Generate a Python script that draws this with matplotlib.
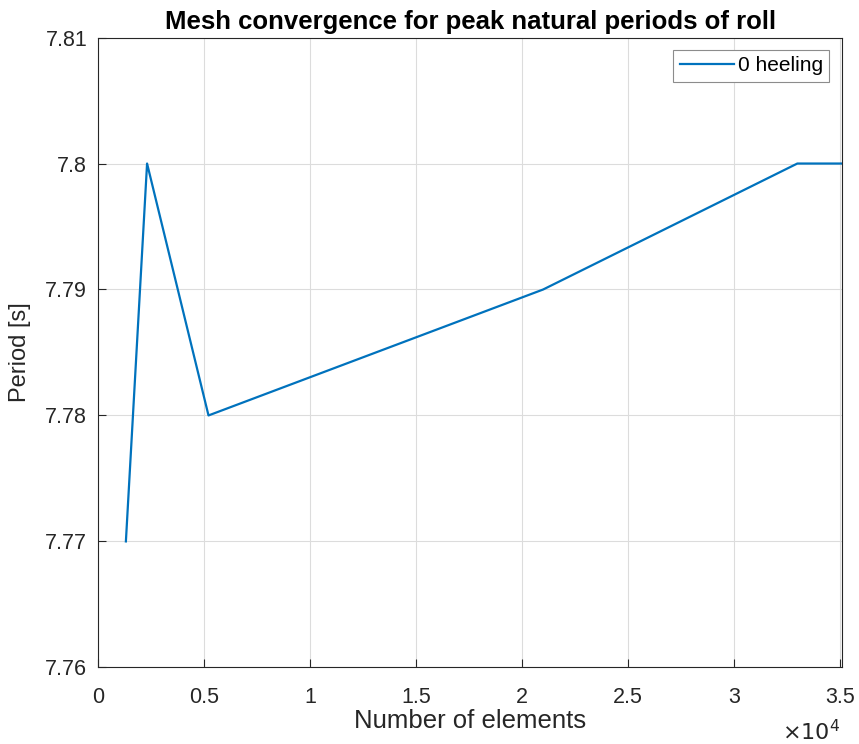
import matplotlib.pyplot as plt

# mesh sizes and the roll period found for each
n_elements = [1300, 2300, 5200, 21000, 33000, 35100]
period = [7.77, 7.80, 7.78, 7.79, 7.80, 7.80]

x_ticks = [0, 5000, 10000, 15000, 20000, 25000, 30000, 35000]
x_ticklabels = ['0', '0.5', '1', '1.5', '2', '2.5', '3', '3.5']
y_ticks = [7.76, 7.77, 7.78, 7.79, 7.80, 7.81]
y_ticklabels = ['7.76', '7.77', '7.78', '7.79', '7.8', '7.81']

plt.rcParams['font.family'] = ['Liberation Sans', 'DejaVu Sans']
axcol = '#262626'

fig = plt.figure(figsize=(8.59, 7.44), dpi=100)
ax = fig.add_axes([0.1145, 0.1030, 0.8655, 0.8465])

ax.plot(n_elements, period, color='#0072BD', lw=1.6, label='0 heeling')

ax.set_xlim(0, 35100)
ax.set_ylim(7.76, 7.81)
ax.set_xticks(x_ticks)
ax.set_xticklabels(x_ticklabels)
ax.set_yticks(y_ticks)
ax.set_yticklabels(y_ticklabels)
ax.tick_params(direction='in', length=6, width=0.8, colors=axcol,
               labelsize=15.5)
ax.tick_params(axis='x', pad=14)
ax.tick_params(axis='y', pad=8)
for s in ax.spines.values():
    s.set_color(axcol)
    s.set_linewidth(0.8)
ax.grid(True, color='#dcdcdc', lw=0.8)
ax.set_axisbelow(True)

ax.set_xlabel('Number of elements', fontsize=18.5, color=axcol, labelpad=1)
ax.set_ylabel('Period [s]', fontsize=17, color=axcol, labelpad=10)
ax.set_title('Mesh convergence for peak natural periods of roll',
             fontsize=18.5, fontweight='bold', pad=6)
fig.text(840 / 859, 1 - 740 / 744, r'$\times10^4$',
         ha='right', va='baseline', fontsize=16, color=axcol)

leg = ax.legend(loc='upper right', fontsize=15, fancybox=False,
                framealpha=1, edgecolor='#8c8c8c', handlelength=2.6,
                handletextpad=0.2, borderaxespad=0.6, borderpad=0.3)
leg.get_frame().set_linewidth(0.8)

fig.savefig('out.png', dpi=100)
